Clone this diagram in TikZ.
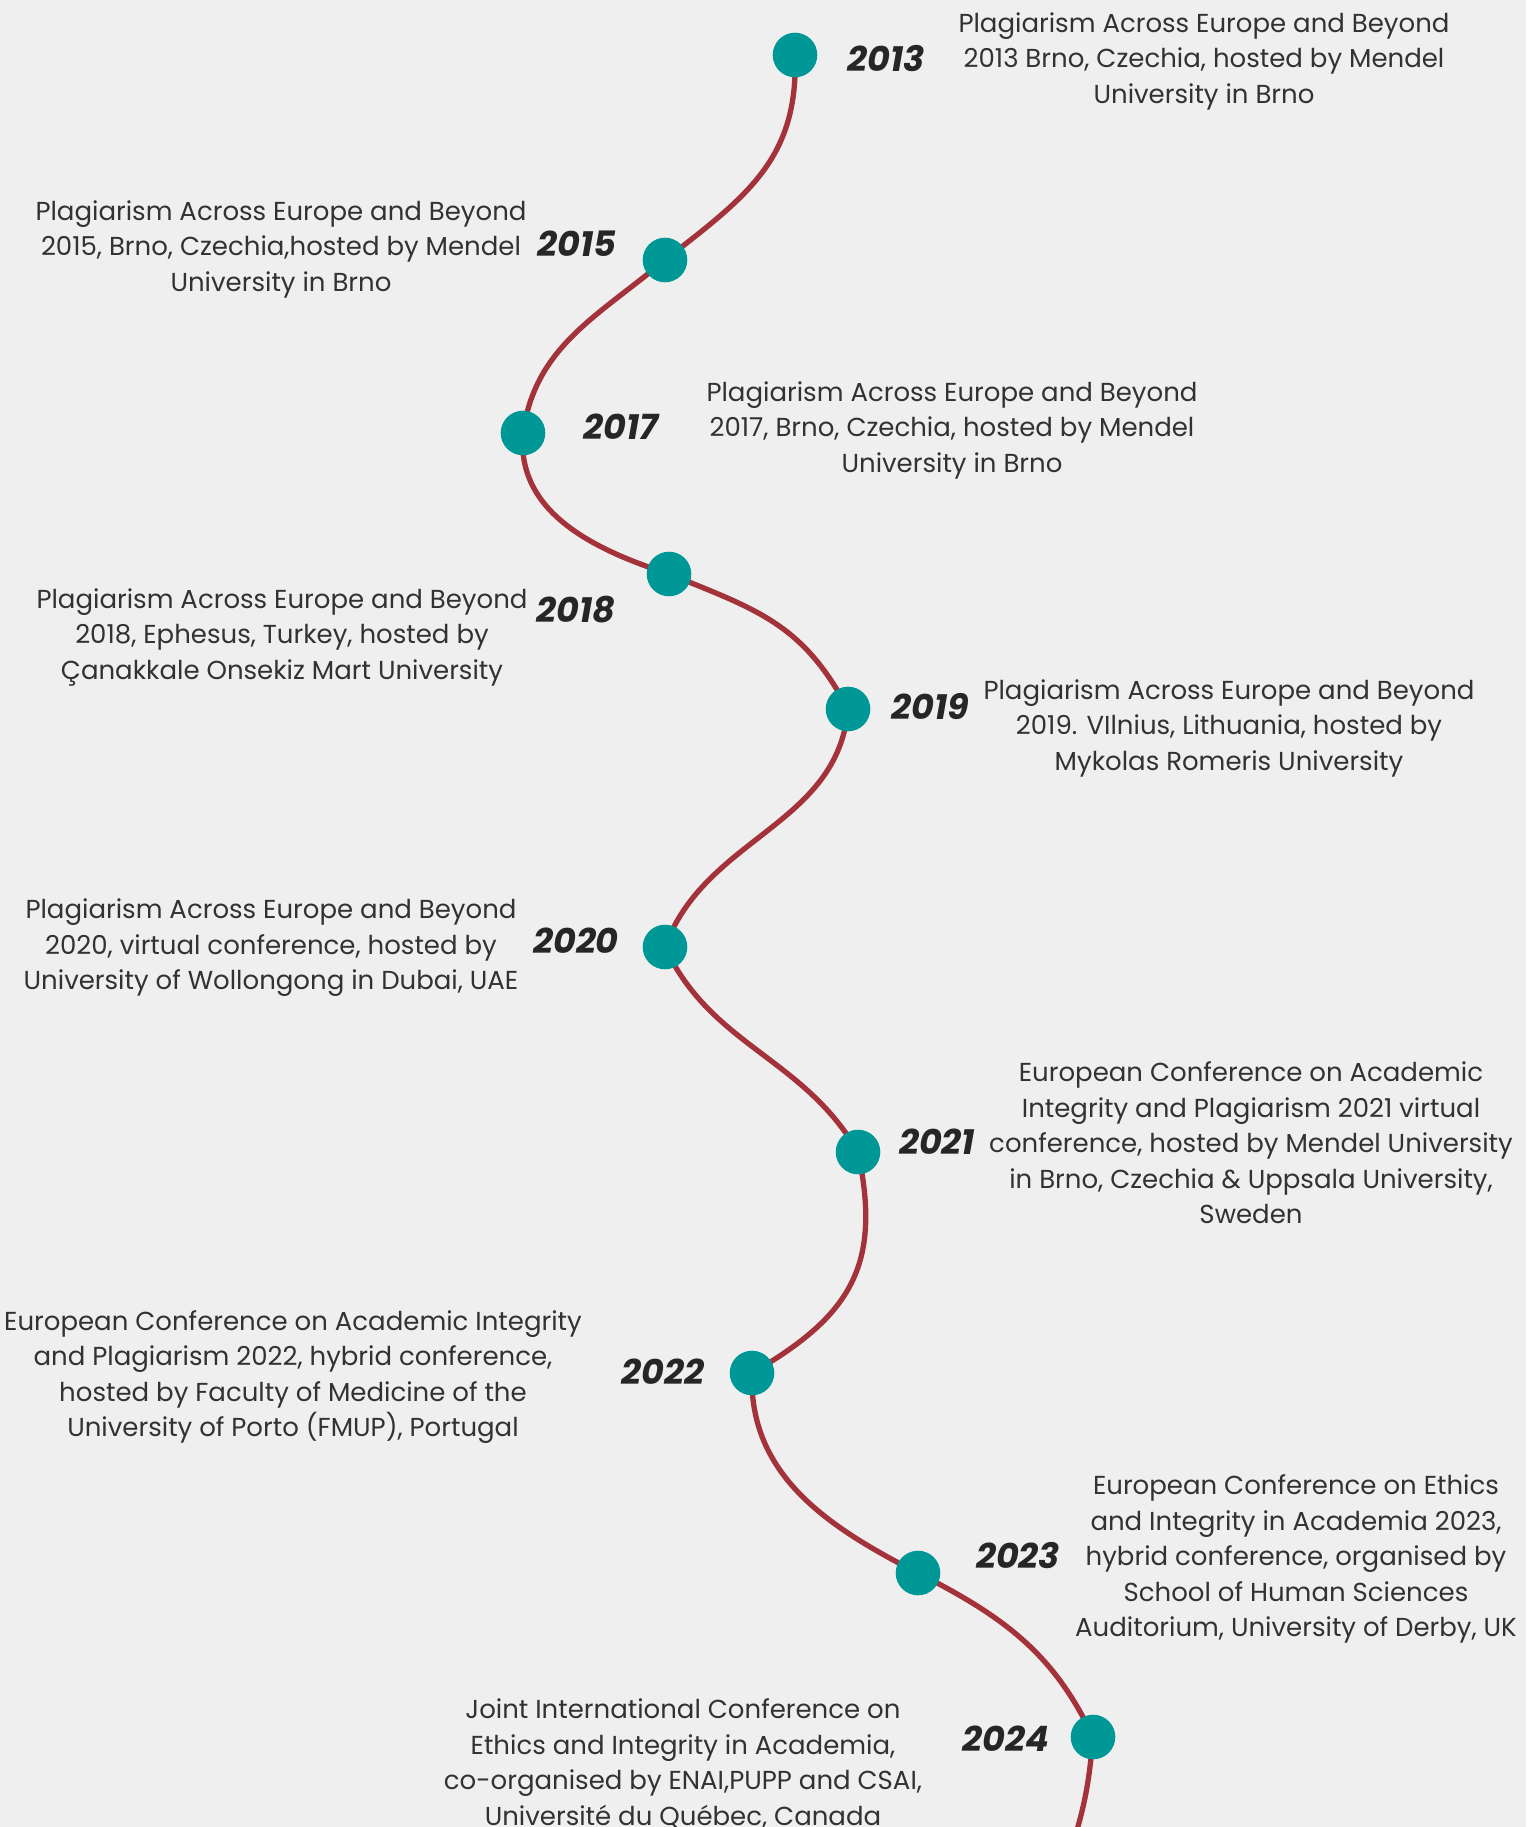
\documentclass[tikz,border=0pt]{standalone}
\usepackage{fontspec}
\setmainfont{Poppins}
\pgfdeclarelayer{bg}
\pgfsetlayers{bg,main}
\definecolor{bgcol}{RGB}{239,239,239}
\definecolor{teal}{RGB}{0,152,151}
\definecolor{wine}{RGB}{164,50,58}
\definecolor{txt}{RGB}{50,50,50}
\definecolor{yr}{RGB}{38,38,38}
\tikzset{
  dot/.style={circle,fill=teal,minimum size=44.6pt,inner sep=0pt},
  year/.style={text=yr,font=\fontsize{35}{40}\selectfont\bfseries\itshape,inner sep=0pt},
  desc/.style={text=txt,align=center,font=\fontsize{26}{35.5}\selectfont,inner sep=0pt},
  curve/.style={draw=wine,line width=5.3pt}
}
\begin{document}
\begin{tikzpicture}[x=1pt,y=1pt]
\useasboundingbox (0,0) rectangle (1526,-1827);
% dots
\node[dot] (d13) at (795,-55) {};
\node[dot] (d15) at (665,-260) {};
\node[dot] (d17) at (523,-433) {};
\node[dot] (d18) at (669,-574) {};
\node[dot] (d19) at (848,-709) {};
\node[dot] (d20) at (665,-947) {};
\node[dot] (d21) at (858,-1152) {};
\node[dot] (d22) at (752,-1373) {};
\node[dot] (d23) at (918,-1573) {};
\node[dot] (d24) at (1093,-1737) {};
\coordinate (endc) at (1074,-1840);
% background and curve
\begin{pgfonlayer}{bg}
\fill[bgcol] (0,0) rectangle (1526,-1827);
\draw[curve] (d13.center) to[out=-88,in=38,looseness=1.1] (d15.center)
  to[out=-140,in=82] (d17.center)
  to[out=-95,in=162] (d18.center)
  to[out=-22,in=118,looseness=1.1] (d19.center)
  to[out=-95,in=70] (d20.center)
  to[out=-65,in=120] (d21.center)
  to[out=-78,in=30,looseness=1.2] (d22.center)
  to[out=-92,in=153] (d23.center)
  to[out=-27,in=115] (d24.center)
  to[out=-95,in=73] (endc);
\end{pgfonlayer}
% years
\node[year] (y13) at (886,-59) {2013};
\node[year] (y15) at (577,-244) {2015};
\node[year] (y17) at (621,-427) {2017};
\node[year] (y18) at (576,-610) {2018};
\node[year] (y19) at (930,-707) {2019};
\node[year] (y20) at (576,-941) {2020};
\node[year] (y21) at (937,-1142) {2021};
\node[year] (y22) at (663,-1372) {2022};
\node[year] (y23) at (1018,-1556) {2023};
\node[year] (y24) at (1006,-1739) {2024};
% descriptions
\node[desc] (t13) at (1204,-61) {Plagiarism Across Europe and Beyond\\2013 Brno, Czechia, hosted by Mendel\\University in Brno};
\node[desc] (t15) at (281,-249) {Plagiarism Across Europe and Beyond\\2015, Brno, Czechia,hosted by Mendel\\University in Brno};
\node[desc] (t17) at (952,-430) {Plagiarism Across Europe and Beyond\\2017, Brno, Czechia, hosted by Mendel\\University in Brno};
\node[desc] (t18) at (282,-637) {Plagiarism Across Europe and Beyond\\2018, Ephesus, Turkey, hosted by\\Çanakkale Onsekiz Mart University};
\node[desc] (t19) at (1229,-728) {Plagiarism Across Europe and Beyond\\2019. VIlnius, Lithuania, hosted by\\Mykolas Romeris University};
\node[desc] (t20) at (271,-948) {Plagiarism Across Europe and Beyond\\2020, virtual conference, hosted by\\University of Wollongong in Dubai, UAE};
\node[desc] (t21) at (1251,-1143) {European Conference on Academic\\Integrity and Plagiarism 2021 virtual\\conference, hosted by Mendel University\\in Brno, Czechia \& Uppsala University,\\Sweden};
\node[desc] (t22) at (293,-1377) {European Conference on Academic Integrity\\and Plagiarism 2022, hybrid conference,\\hosted by Faculty of Medicine of the\\University of Porto (FMUP), Portugal};
\node[desc] (t23) at (1296,-1559) {European Conference on Ethics\\and Integrity in Academia 2023,\\hybrid conference, organised by\\School of Human Sciences\\Auditorium, University of Derby, UK};
\node[desc] (t24) at (683,-1764) {Joint International Conference on\\Ethics and Integrity in Academia,\\co-organised by ENAI,PUPP and CSAI,\\Université du Québec, Canada};
\end{tikzpicture}
\end{document}
